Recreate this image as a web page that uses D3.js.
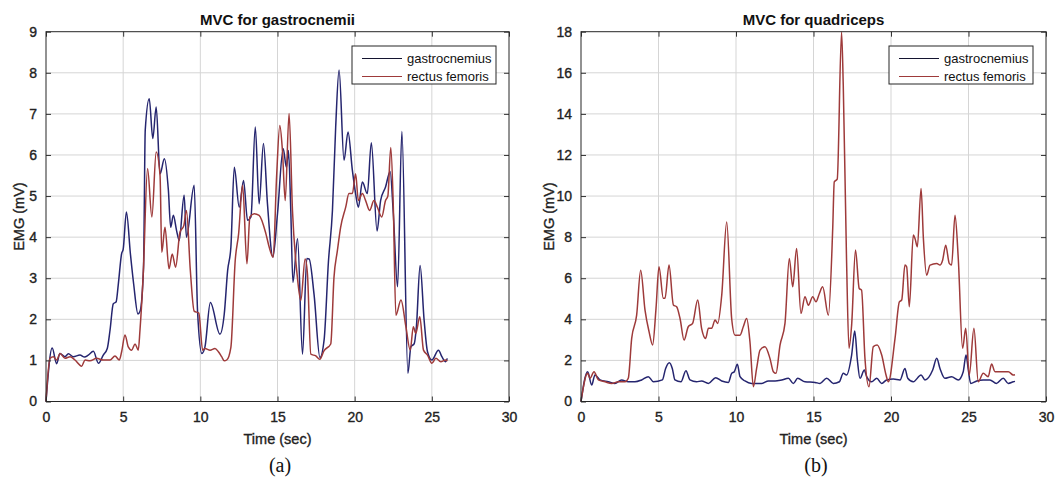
<!DOCTYPE html>
<html>
<head>
<meta charset="utf-8">
<script src="https://cdn.jsdelivr.net/npm/d3@7"></script>
<style>
  body { margin: 0; background: #fff; }
  svg { display: block; }
  text { font-family: "Liberation Sans", Arial, sans-serif; }
</style>
</head>
<body>
<svg id="chart"></svg>
<script>
// ---- data ----
const seriesNames = ["gastrocnemius", "rectus femoris"];
const xTicks = [0, 5, 10, 15, 20, 25, 30];
const yTicksA = [0, 1, 2, 3, 4, 5, 6, 7, 8, 9];
const yTicksB = [0, 2, 4, 6, 8, 10, 12, 14, 16, 18];

// (a) MVC for gastrocnemii
const gastroTimeA = [0, 0.4, 0.69, 0.9, 1.23, 1.45, 1.77, 2.2, 2.5, 2.74, 3.07, 3.4, 3.71, 3.97, 4.15, 4.36, 4.54, 4.69, 4.9, 5.0,
  5.21, 5.47, 5.68, 5.96, 6.1, 6.32, 6.43, 6.69, 6.92, 7.14, 7.39, 7.67, 7.93, 8.08, 8.25, 8.46, 8.63, 8.95, 9.1, 9.6,
  9.82, 10.1, 10.3, 10.65, 11.27, 11.55, 11.77, 11.98, 12.2, 12.52, 12.8, 13.06, 13.28, 13.56, 13.81, 14.09, 14.35, 14.7, 15.0, 15.37,
  15.58, 15.71, 15.86, 16.0, 16.3, 16.62, 16.9, 17.05, 17.37, 17.75, 18.02, 18.3, 18.56, 18.77, 18.99, 19.31, 19.57, 19.85, 20.06, 20.24,
  20.5, 20.82, 21.08, 21.45, 21.68, 22.0, 22.3, 22.5, 22.78, 23.06, 23.45, 23.64, 23.86, 24.0, 24.24, 24.5, 24.72, 25.0, 25.43, 25.65,
  25.9, 26.0];
const gastroEmgA = [0, 1.3, 0.92, 1.17, 1.09, 1.16, 1.09, 1.13, 1.08, 1.13, 1.22, 0.93, 1.13, 1.29, 1.74, 2.38, 2.42, 2.87, 3.6, 3.7,
  4.61, 3.59, 2.86, 2.13, 2.2, 3.27, 6.6, 7.37, 6.4, 7.17, 5.54, 5.91, 5.14, 4.24, 4.53, 4.16, 3.92, 5.02, 4.0, 5.26,
  2.2, 1.17, 1.33, 2.41, 1.64, 2.13, 3.19, 3.76, 5.7, 4.73, 5.38, 4.41, 4.49, 6.68, 4.81, 6.28, 4.81, 3.52, 4.57, 6.15,
  5.7, 6.11, 4.65, 2.9, 3.96, 1.15, 3.48, 3.47, 2.6, 1.07, 1.5, 3.4, 4.65, 6.68, 8.07, 5.87, 6.56, 5.63, 5.06, 4.73,
  5.34, 5.06, 6.3, 4.15, 4.89, 5.22, 5.6, 4.6, 2.79, 6.57, 0.69, 1.33, 1.41, 1.82, 3.31, 1.98, 1.21, 1.01, 1.25, 1.09,
  0.97, 1.05];
const rectusTimeA = [0, 0.26, 0.48, 0.69, 0.91, 1.23, 1.56, 1.88, 2.31, 2.53, 2.85, 3.28, 3.71, 4.15, 4.47, 4.75, 4.9, 5.12, 5.33, 5.55,
  5.77, 5.98, 6.09, 6.3, 6.58, 6.86, 7.14, 7.39, 7.5, 7.71, 7.97, 8.18, 8.4, 8.68, 8.93, 9.1, 9.35, 9.6, 9.9, 10.15,
  10.3, 10.63, 10.95, 11.17, 11.38, 11.55, 11.71, 11.98, 12.26, 12.48, 12.74, 13.02, 13.21, 13.49, 13.81, 14.25, 14.46, 14.72, 14.94, 15.15,
  15.32, 15.5, 15.75, 15.97, 16.29, 16.51, 16.79, 16.94, 17.16, 17.48, 17.74, 18.02, 18.45, 18.66, 18.88, 19.09, 19.42, 19.63, 19.85, 20.06,
  20.24, 20.5, 20.71, 20.97, 21.25, 21.47, 21.75, 22.0, 22.15, 22.34, 22.5, 22.67, 23.0, 23.32, 23.6, 23.8, 23.96, 24.22, 24.46, 24.72,
  25.0, 25.26, 25.58, 25.9, 26.0];
const rectusEmgA = [0, 1.05, 1.09, 1.01, 1.17, 1.05, 1.09, 1.01, 0.86, 1.01, 0.99, 1.05, 1.01, 1.01, 1.11, 1.01, 1.21, 1.62, 1.33, 1.25,
  1.4, 1.25, 1.74, 3.1, 5.67, 4.49, 6.07, 5.5, 3.63, 4.24, 3.23, 3.59, 3.27, 4.12, 4.28, 4.65, 3.2, 2.2, 2.15, 1.25,
  1.29, 1.25, 1.29, 1.21, 1.09, 0.99, 1.01, 1.32, 3.43, 4.08, 5.26, 3.35, 4.49, 4.57, 4.53, 4.08, 3.76, 3.51, 5.46, 6.72,
  6.11, 4.89, 7.01, 4.65, 3.02, 2.46, 3.47, 3.11, 1.15, 1.11, 1.03, 1.24, 1.4, 3.02, 3.67, 4.24, 4.73, 5.06, 5.06, 5.54,
  4.89, 5.06, 4.89, 4.65, 4.89, 4.73, 4.49, 4.89, 5.0, 6.18, 4.8, 2.1, 2.47, 1.82, 1.25, 1.82, 1.66, 2.06, 1.25, 1.13,
  0.93, 1.05, 0.97, 1.01, 0.98];

// (b) MVC for quadriceps
const gastroTimeB = [0, 0.43, 0.69, 0.9, 1.23, 1.76, 2.19, 2.62, 3.05, 3.48, 3.91, 4.34, 4.67, 5.25, 5.46, 5.7, 5.89, 6.06, 6.45, 6.77,
  7.03, 7.46, 7.78, 8.22, 8.69, 9.08, 9.51, 9.72, 9.89, 10.09, 10.26, 10.58, 11.0, 11.66, 12.09, 12.52, 12.95, 13.38, 13.7, 13.98,
  14.45, 15.1, 15.42, 15.85, 16.28, 16.67, 16.92, 17.13, 17.46, 17.66, 17.83, 18.0, 18.28, 18.43, 18.75, 19.08, 19.4, 19.72, 20.15, 20.58,
  20.9, 21.08, 21.44, 21.94, 22.19, 22.69, 22.95, 23.16, 23.48, 23.91, 24.34, 24.66, 24.84, 24.99, 25.14, 25.53, 25.95, 26.38, 26.8, 27.24,
  27.57, 27.89, 28.0];
const gastroEmgB = [0, 1.45, 0.8, 1.29, 1.05, 0.96, 0.88, 1.05, 0.96, 0.96, 1.05, 1.21, 0.96, 1.05, 1.61, 1.89, 1.61, 1.05, 0.96, 1.5,
  1.05, 0.96, 1.0, 0.88, 1.16, 1.0, 0.93, 1.37, 1.45, 1.81, 1.21, 1.0, 0.88, 0.88, 1.0, 1.0, 1.05, 1.13, 0.88, 1.13,
  0.96, 0.93, 0.88, 1.13, 0.88, 0.96, 1.37, 1.29, 2.26, 3.43, 2.02, 1.13, 1.53, 1.21, 0.96, 1.13, 0.88, 1.05, 1.09, 1.05,
  1.61, 1.13, 0.96, 1.29, 1.05, 1.53, 2.1, 1.61, 1.13, 1.21, 1.05, 1.45, 2.26, 1.53, 0.88, 1.0, 1.05, 1.05, 0.88, 1.13,
  0.88, 0.96, 0.98];
const rectusTimeB = [0, 0.43, 0.58, 0.84, 1.12, 1.55, 1.98, 2.41, 2.84, 3.05, 3.27, 3.59, 3.85, 4.13, 4.39, 4.62, 4.84, 5.03, 5.31, 5.42,
  5.68, 5.96, 6.17, 6.39, 6.65, 6.92, 7.2, 7.53, 7.78, 8.04, 8.22, 8.43, 8.65, 8.82, 9.08, 9.4, 9.72, 9.94, 10.26, 10.47,
  10.69, 10.9, 11.12, 11.33, 11.55, 11.87, 12.19, 12.41, 12.58, 12.84, 13.16, 13.44, 13.66, 13.91, 14.19, 14.45, 14.67, 14.95, 15.16, 15.38,
  15.59, 15.96, 16.24, 16.34, 16.53, 16.81, 16.92, 17.13, 17.29, 17.46, 17.71, 17.95, 18.1, 18.32, 18.58, 18.86, 19.11, 19.4, 19.68, 19.83,
  20.26, 20.54, 20.69, 20.9, 21.01, 21.18, 21.44, 21.55, 21.7, 21.94, 22.09, 22.3, 22.52, 22.95, 23.16, 23.33, 23.53, 23.76, 23.91, 24.13,
  24.34, 24.62, 24.82, 25.05, 25.35, 25.63, 25.95, 26.27, 26.49, 26.71, 27.03, 27.57, 27.89, 28.0];
const rectusEmgB = [0, 1.37, 1.13, 1.45, 1.05, 0.96, 0.88, 0.96, 0.96, 1.13, 3.07, 4.2, 6.39, 4.45, 3.4, 2.75, 4.53, 6.56, 5.02, 5.02,
  6.64, 4.7, 4.61, 4.04, 2.99, 3.64, 3.8, 4.94, 3.56, 3.07, 3.56, 3.56, 3.97, 3.8, 5.18, 8.74, 4.04, 3.23, 3.23, 3.64,
  4.04, 2.91, 0.72, 1.61, 2.5, 2.67, 2.1, 1.45, 1.37, 2.75, 3.8, 6.96, 5.58, 7.45, 4.29, 5.1, 4.69, 5.1, 4.85, 5.26,
  5.58, 4.2, 8.42, 10.69, 10.82, 17.98, 15.39, 6.96, 2.59, 3.72, 7.37, 5.5, 5.42, 2.1, 0.72, 2.67, 2.75, 2.26, 1.29, 0.96,
  3.07, 4.85, 4.94, 6.64, 6.56, 4.61, 8.1, 7.93, 7.53, 10.37, 7.93, 6.15, 6.64, 6.72, 6.64, 6.88, 7.61, 6.72, 6.64, 9.07,
  6.96, 2.59, 3.56, 1.29, 3.56, 0.96, 1.37, 1.21, 1.82, 1.45, 1.45, 1.45, 1.29, 1.3];

// ---- layout ----
const width = 1055, height = 481;
const colors = ["#25256f", "#9e3a3a"];

const panels = [
  {title: "MVC for gastrocnemii", caption: "(a)", left: 46, right: 509, yMax: 9, yTicks: yTicksA,
   series: [[gastroTimeA, gastroEmgA], [rectusTimeA, rectusEmgA]], ylabelX: 24, captionX: 280},
  {title: "MVC for quadriceps", caption: "(b)", left: 581, right: 1046, yMax: 18, yTicks: yTicksB,
   series: [[gastroTimeB, gastroEmgB], [rectusTimeB, rectusEmgB]], ylabelX: 554, captionX: 816}
];
const plotTop = 31.7, plotBottom = 401.5;

let svg = d3.select("#chart")
    .attr("width", width)
    .attr("height", height);

svg.append("rect").attr("width", width).attr("height", height).attr("fill", "#fff");

// slightly heavier text, the reference is a blurry matlab export
const heavy = sel => sel.attr("stroke", "#222").attr("stroke-width", 0.35);

panels.forEach(p => {
    const x = d3.scaleLinear().domain([0, 30]).range([p.left, p.right]);
    const y = d3.scaleLinear().domain([0, p.yMax]).range([plotBottom, plotTop]);
    const g = svg.append("g");

    // grid
    g.append("g").selectAll("line")
        .data(xTicks.slice(1, -1))
        .join("line")
            .attr("x1", d => x(d)).attr("x2", d => x(d))
            .attr("y1", plotTop).attr("y2", plotBottom)
            .attr("stroke", "#d5d5d5");
    g.append("g").selectAll("line")
        .data(p.yTicks.slice(1, -1))
        .join("line")
            .attr("x1", p.left).attr("x2", p.right)
            .attr("y1", d => y(d)).attr("y2", d => y(d))
            .attr("stroke", "#d5d5d5");

    // lines
    const line = d3.line()
        .x(d => x(d[0]))
        .y(d => y(d[1]))
        .curve(d3.curveMonotoneX);
    p.series.forEach((s, i) => {
        const pts = s[0].map((t, k) => [t, s[1][k]]);
        g.append("path")
            .datum(pts)
            .attr("d", line)
            .attr("fill", "none")
            .attr("stroke", colors[i])
            .attr("stroke-width", 1.5)
            .attr("stroke-linejoin", "round");
    });

    // axes (ticks inside, like a boxed matlab axes)
    const axisStyle = sel => {
        sel.select(".domain").remove();
        sel.selectAll(".tick line").attr("stroke", "#333");
        sel.selectAll("text").attr("fill", "#222").style("font-size", "14px")
            .style("font-family", '"Liberation Sans", Arial, sans-serif')
            .call(heavy);
    };
    g.append("g").attr("transform", `translate(0,${plotBottom})`)
        .call(d3.axisBottom(x).tickValues(xTicks).tickSize(-5).tickPadding(11))
        .call(axisStyle);
    g.append("g").attr("transform", `translate(0,${plotTop})`)
        .call(d3.axisTop(x).tickValues(xTicks).tickSize(-5).tickFormat(""))
        .call(axisStyle);
    g.append("g").attr("transform", `translate(${p.left},0)`)
        .call(d3.axisLeft(y).tickValues(p.yTicks).tickSize(-5).tickPadding(9))
        .call(axisStyle);
    g.append("g").attr("transform", `translate(${p.right},0)`)
        .call(d3.axisRight(y).tickValues(p.yTicks).tickSize(-5).tickFormat(""))
        .call(axisStyle);

    g.append("rect")
        .attr("x", p.left).attr("y", plotTop)
        .attr("width", p.right - p.left).attr("height", plotBottom - plotTop)
        .attr("fill", "none").attr("stroke", "#262626").attr("stroke-width", 1);

    // title and labels
    const mid = (p.left + p.right) / 2;
    g.append("text").attr("x", mid).attr("y", 25)
        .attr("text-anchor", "middle").style("font-size", "15px").style("font-weight", "bold")
        .attr("fill", "#111").text(p.title);
    g.append("text").attr("x", mid).attr("y", 444)
        .attr("text-anchor", "middle").style("font-size", "14.5px")
        .attr("fill", "#222").call(heavy).text("Time (sec)");
    g.append("text")
        .attr("transform", `translate(${p.ylabelX},${(plotTop + plotBottom) / 2}) rotate(-90)`)
        .attr("text-anchor", "middle").style("font-size", "14.5px")
        .attr("fill", "#222").call(heavy).text("EMG (mV)");
    g.append("text").attr("x", p.captionX).attr("y", 472)
        .attr("text-anchor", "middle")
        .style("font-family", '"Liberation Serif", "Times New Roman", serif')
        .style("font-size", "20px").attr("fill", "#111").text(p.caption);

    // legend
    const lx = p.right - 157, ly = 46;
    const legend = g.append("g").attr("transform", `translate(${lx},${ly})`);
    legend.append("rect").attr("width", 144).attr("height", 38)
        .attr("fill", "#fff").attr("stroke", "#262626");
    seriesNames.forEach((name, i) => {
        legend.append("line")
            .attr("x1", 10).attr("x2", 50)
            .attr("y1", 12.5 + i * 18).attr("y2", 12.5 + i * 18)
            .attr("stroke", i == 0 ? "#141430" : colors[1]).attr("stroke-width", 1.2);
        legend.append("text")
            .attr("x", 55).attr("y", 12.5 + i * 18)
            .attr("dy", "0.35em")
            .style("font-size", "13px").attr("fill", "#111")
            .text(name);
    });
});
</script>
</body>
</html>
